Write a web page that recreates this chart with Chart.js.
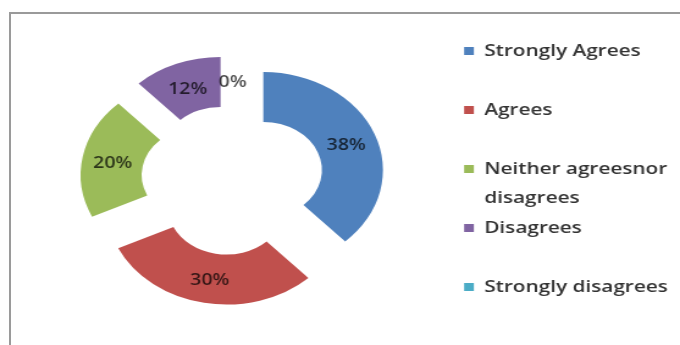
<!DOCTYPE html>
<html>
<head>
<meta charset="utf-8">
<script src="https://cdn.jsdelivr.net/npm/chart.js@4.4.1/dist/chart.umd.min.js"></script>
<style>
    html, body { margin: 0; padding: 0; background: #fff; overflow: hidden; }
    /* marco gris del gráfico original */
    #frame {
        position: absolute; left: 9px; top: 12px; width: 720px; height: 380px;
        border-left: 2px solid #9a9a9a; border-top: 2px solid #9a9a9a;
    }
    /* la imagen original está estirada en horizontal */
    #wrap {
        position: absolute; left: 0; top: 0; width: 557px; height: 345px;
        transform: scaleX(1.2208); transform-origin: 0 0;
    }
</style>
</head>
<body>
<div id="frame"></div>
<div id="wrap"><canvas id="respChart"></canvas></div>
<script>
// --- 1. DATA ---
const categories = ['Strongly Agrees', 'Agrees', ['Neither agreesnor', 'disagrees'], 'Disagrees', 'Strongly disagrees'];
const percents = [38, 30, 20, 12, 0];
const colors = ['#4F81BD', '#C0504D', '#9BBB59', '#8064A2', '#4BACC6'];

const FONT = 'Open Sans';
const EXPLODE = 27; // how far each slice is pulled out

// --- 2. EXPLODED SLICES + PERCENT LABELS ---
const explodePlugin = {
    id: 'explode',
    beforeDatasetsDraw(chart) {
        const ctx = chart.ctx;
        const arcs = chart.getDatasetMeta(0).data;
        arcs.forEach((arc, i) => {
            const mid = (arc.startAngle + arc.endAngle) / 2;
            ctx.save();
            ctx.translate(Math.cos(mid) * EXPLODE, Math.sin(mid) * EXPLODE);
            arc.draw(ctx);

            const r = (arc.innerRadius + arc.outerRadius) / 2;
            ctx.fillStyle = 'rgba(0, 0, 0, 0.72)';
            ctx.font = '600 16px "' + FONT + '"';
            ctx.textAlign = 'center';
            ctx.textBaseline = 'middle';
            ctx.fillText(percents[i] + '%', arc.x + Math.cos(mid) * r, arc.y + Math.sin(mid) * r + 2);
            ctx.restore();
        });
        return false;
    }
};

// every legend entry gets two lines so the spacing stays even
const baseLabels = Chart.overrides.doughnut.plugins.legend.labels.generateLabels;

// --- 3. CHART ---
const ctx = document.getElementById('respChart').getContext('2d');
const chart = new Chart(ctx, {
    type: 'doughnut',
    data: {
        labels: categories,
        datasets: [{
            data: percents,
            backgroundColor: colors,
            borderWidth: 0,
            radius: 98,
            cutout: '49%'
        }]
    },
    options: {
        responsive: true,
        maintainAspectRatio: false,
        animation: false,
        layout: { padding: { top: 15, bottom: 0, left: 2, right: 0 } },
        plugins: {
            tooltip: { enabled: false },
            legend: {
                position: 'right',
                align: 'center',
                title: { display: true, text: '', padding: 0, font: { size: 12, lineHeight: '19px' } },
                labels: {
                    boxWidth: 8,
                    boxHeight: 8,
                    padding: 1,
                    color: '#333333',
                    font: { family: FONT, size: 17, weight: '600', lineHeight: '29px' },
                    generateLabels: (c) => baseLabels(c).map(item => {
                        const lines = Array.isArray(item.text) ? item.text.slice() : [item.text];
                        while (lines.length < 2) lines.push('');
                        item.text = lines;
                        return item;
                    })
                }
            }
        }
    },
    plugins: [explodePlugin]
});
</script>
</body>
</html>
